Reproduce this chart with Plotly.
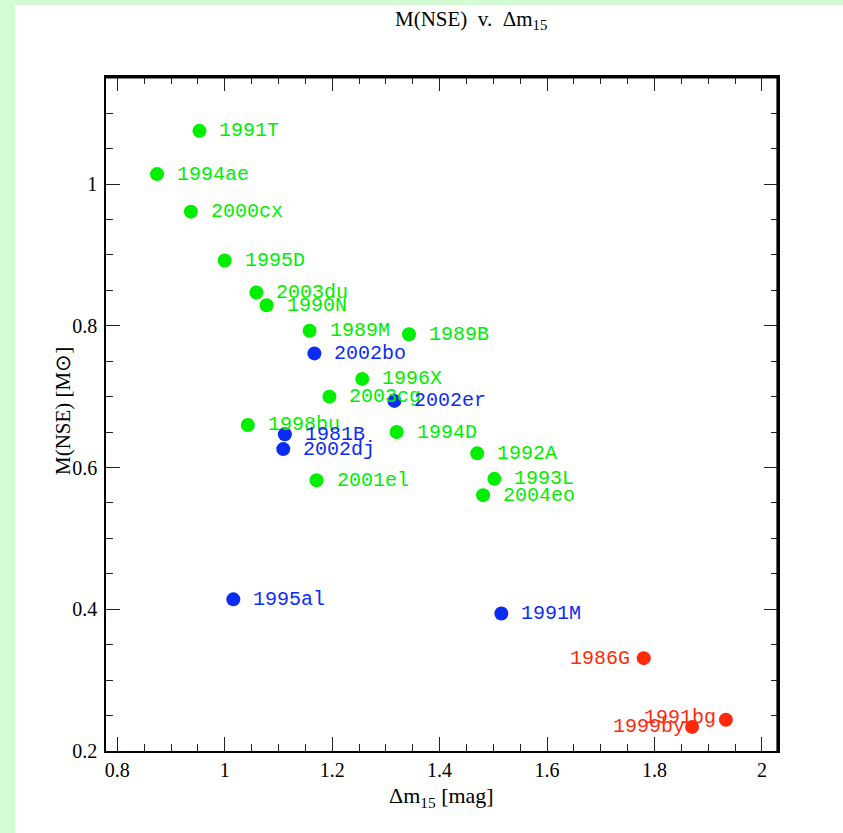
import plotly.graph_objects as go

# ---- data ----
green_names = ["1991T", "1994ae", "2000cx", "1995D", "2003du", "1990N", "1989M", "1989B",
               "1996X", "2003cg", "1998bu", "1994D", "1992A", "1993L", "2004eo", "2001el"]
green_dm15 = [0.953, 0.874, 0.937, 1.000, 1.059, 1.078, 1.158, 1.343,
              1.256, 1.195, 1.043, 1.320, 1.470, 1.502, 1.481, 1.171]
green_mnse = [1.075, 1.014, 0.961, 0.892, 0.847, 0.829, 0.793, 0.788,
              0.725, 0.700, 0.660, 0.650, 0.620, 0.584, 0.561, 0.582]

blue_names = ["2002bo", "2002er", "1981B", "2002dj", "1995al", "1991M"]
blue_dm15 = [1.167, 1.316, 1.112, 1.109, 1.016, 1.515]
blue_mnse = [0.761, 0.694, 0.647, 0.626, 0.414, 0.394]

red_names = ["1986G", "1991bg", "1999by"]
red_dm15 = [1.780, 1.933, 1.870]
red_mnse = [0.331, 0.244, 0.234]

x_ticks = [0.8, 1.0, 1.2, 1.4, 1.6, 1.8, 2.0]
y_ticks = [0.2, 0.4, 0.6, 0.8, 1.0]

# ---- styles ----
GREEN = "#00ee00"
BLUE = "#0a2cf5"
RED = "#ff2a0a"
LABEL_FONT = "Liberation Mono"
AXIS_FONT = "Liberation Serif"
PAGE_GREEN = "#d4fcd4"

W, H = 843, 833
ML, MR, MT, MB = 106, 65, 77, 82
PW, PH = W - ML - MR, H - MT - MB

def px_x(px):
    return (px - ML) / PW

def px_y(py):
    return (H - MB - py) / PH

# label placement (left-side labels for the red points)
left_label = {"1986G": (-12, 0), "1991bg": (-8, 2), "1999by": (-5, 0)}

fig = go.Figure()
annotations = []
for names, xs, ys, col in [(green_names, green_dm15, green_mnse, GREEN),
                           (blue_names, blue_dm15, blue_mnse, BLUE),
                           (red_names, red_dm15, red_mnse, RED)]:
    fig.add_trace(go.Scatter(x=xs, y=ys, mode="markers",
                             marker=dict(size=14, color=col, line=dict(width=0)),
                             showlegend=False, hoverinfo="skip"))
    for n, xv, yv in zip(names, xs, ys):
        if n in left_label:
            dx, dy = left_label[n]
            annotations.append(dict(x=xv, y=yv, xref="x", yref="y", text=n, showarrow=False,
                                    xanchor="right", yanchor="middle", xshift=dx, yshift=dy,
                                    font=dict(family=LABEL_FONT, size=20, color=col)))
        else:
            annotations.append(dict(x=xv, y=yv, xref="x", yref="y", text=n, showarrow=False,
                                    xanchor="left", yanchor="middle", xshift=18,
                                    font=dict(family=LABEL_FONT, size=20, color=col)))

# titles
annotations.append(dict(x=px_x(471), y=px_y(20), xref="paper", yref="paper",
                        text="M(NSE)  v.  Δm<sub>15</sub>", showarrow=False,
                        xanchor="center", yanchor="middle",
                        font=dict(family=AXIS_FONT, size=21, color="black")))
annotations.append(dict(x=px_x(441), y=px_y(797), xref="paper", yref="paper",
                        text="Δm<sub>15</sub> [mag]", showarrow=False,
                        xanchor="center", yanchor="middle",
                        font=dict(family=AXIS_FONT, size=22, color="black")))
annotations.append(dict(x=px_x(63), y=px_y(411), xref="paper", yref="paper",
                        text="M(NSE) [M⊙]", showarrow=False, textangle=-90,
                        xanchor="center", yanchor="middle",
                        font=dict(family=AXIS_FONT, size=21, color="black")))

axis_common = dict(showline=True, linecolor="black", linewidth=1.6, mirror="ticks",
                   ticks="inside", ticklen=14, tickwidth=1.2, tickcolor="#222",
                   showgrid=False, zeroline=False,
                   tickfont=dict(family=AXIS_FONT, size=20, color="black"))

fig.update_xaxes(range=[0.779, 2.030], tickvals=x_ticks, ticktext=[f"{v:g}" for v in x_ticks],
                 minor=dict(dtick=0.05, tick0=0.8, ticklen=7, ticks="inside", tickwidth=1.2,
                            tickcolor="#222", showgrid=False),
                 **axis_common)
fig.update_yaxes(range=[0.2, 1.151], tickvals=y_ticks, ticktext=[f"{v:g}" for v in y_ticks],
                 minor=dict(dtick=0.05, tick0=0.2, ticklen=7, ticks="inside", tickwidth=1.2,
                            tickcolor="#222", showgrid=False),
                 ticklabelstandoff=3,
                 **axis_common)

fig.update_layout(
    width=W, height=H,
    margin=dict(l=ML, r=MR, t=MT, b=MB, autoexpand=False),
    paper_bgcolor=PAGE_GREEN, plot_bgcolor="white",
    annotations=annotations,
    shapes=[
        dict(type="rect", xref="paper", yref="paper", layer="below",
             x0=px_x(15), x1=px_x(W + 5), y0=px_y(H + 5), y1=px_y(5),
             fillcolor="white", line=dict(width=0)),
        # heavier top and right frame edges
        dict(type="line", xref="paper", yref="paper", x0=0, x1=1, y0=1, y1=1,
             line=dict(color="black", width=3.2)),
        dict(type="line", xref="paper", yref="paper", x0=1, x1=1, y0=0, y1=1,
             line=dict(color="black", width=3.2)),
    ],
)

fig.write_html("out.html")
